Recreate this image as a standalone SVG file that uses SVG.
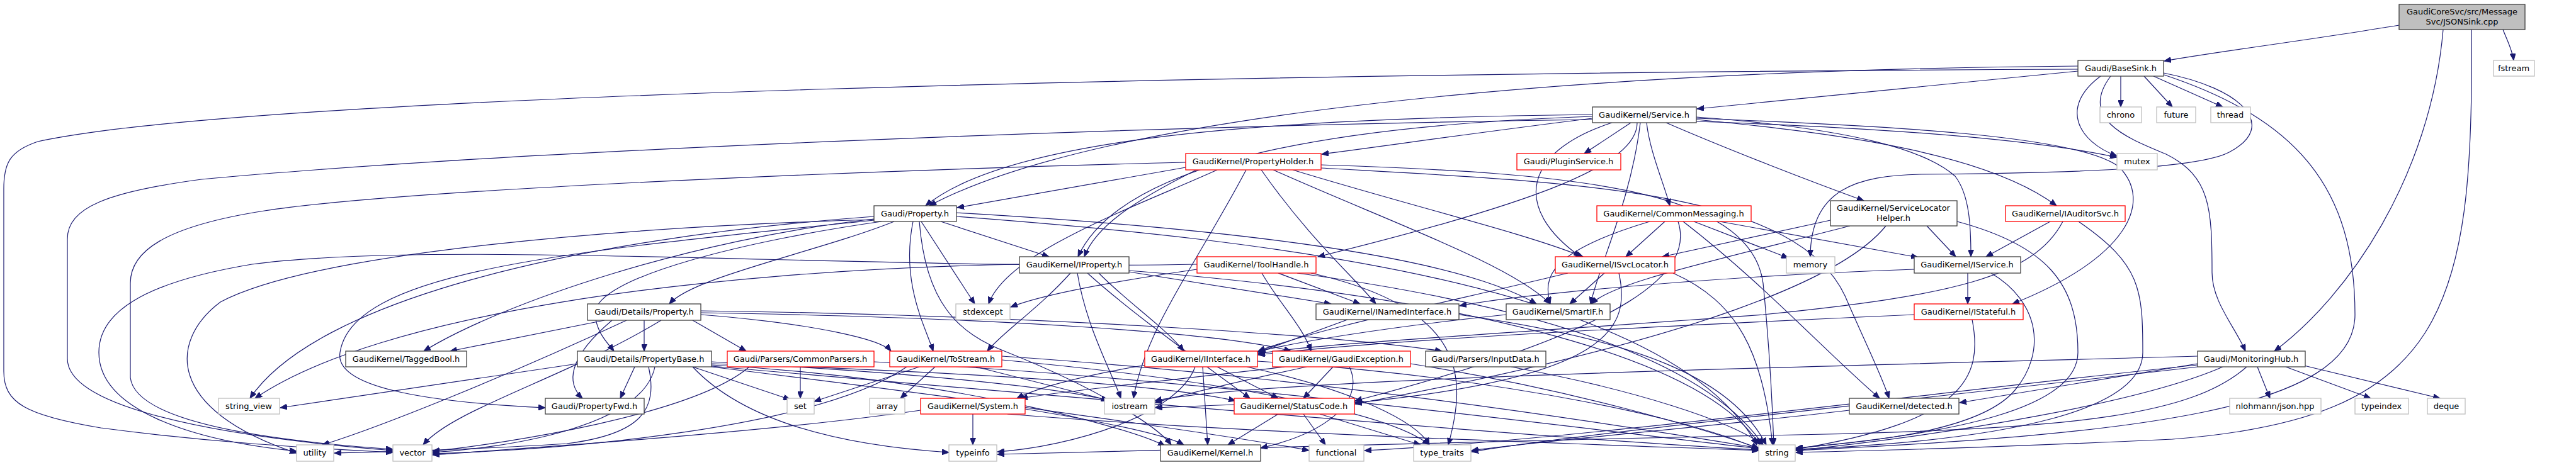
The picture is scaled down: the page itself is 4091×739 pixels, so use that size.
<svg xmlns="http://www.w3.org/2000/svg" width="4091" height="739" viewBox="0 0 4091 739">
<style>
rect{fill:#fff;stroke-width:1.3}
.n rect{stroke:#404040}
.r rect{stroke:#ff0000}
.g rect{stroke:#bfbfbf}
.root rect{fill:#bfbfbf;stroke:#404040}
text{font-family:"DejaVu Sans","Liberation Sans",sans-serif;font-size:13px;text-anchor:middle;fill:#000}
.e path{fill:none;stroke:#191970;stroke-width:1.2;marker-end:url(#a)}
</style>
<defs>
<marker id="a" markerWidth="12" markerHeight="9" refX="11" refY="4.5" orient="auto" markerUnits="userSpaceOnUse"><path d="M0,0 L11,4.5 L0,9 z" fill="#191970" stroke="#191970"/></marker>
</defs>
<rect x="0" y="0" width="4091" height="739" style="fill:#fff;stroke:none"/>
<g id="connectors" class="e">
<path d="M3810,40 C3660,65 3520,82 3437,97"/>
<path d="M3975,47 C3982,65 3990,80 3992,96"/>
<path d="M3880,47 C3860,280 3730,470 3612,558"/>
<path d="M3925,47 C3930,500 3880,665 3450,698 C3150,712 2980,716 2852,719"/>
<path d="M3300,113 C3050,138 2850,158 2695,173"/>
<path d="M3300,105 C2500,112 1750,180 1476,327"/>
<path d="M3300,110 C2000,115 400,150 60,225 C15,240 6,260 6,300 L6,590 C6,640 40,660 160,680 C350,705 500,712 624,719"/>
<path d="M3368,121 L3368,170"/>
<path d="M3405,121 L3450,170"/>
<path d="M3420,121 L3530,170"/>
<path d="M3336,121 C3270,170 3300,225 3362,248"/>
<path d="M3352,121 C3300,190 3380,220 3440,245 C3510,280 3513,330 3513,433 C3513,480 3550,520 3566,558"/>
<path d="M3436,116 C3560,140 3620,200 3540,242 C3490,268 3300,275 3050,277 C2950,279 2875,300 2875,408"/>
<path d="M3437,119 C3650,190 3740,300 3740,500 C3740,650 3400,690 2852,716"/>
<path d="M2529,188 C2350,210 2200,232 2099,245"/>
<path d="M2590,195 L2516,244"/>
<path d="M2615,195 C2620,240 2640,285 2652,327"/>
<path d="M2646,195 C2750,240 2880,290 2960,319"/>
<path d="M2694,190 C2900,210 3150,240 3266,327"/>
<path d="M2694,186 C2950,205 3060,240 3105,280 C3128,310 3130,360 3130,408"/>
<path d="M2694,188 C3000,200 3300,215 3365,265 C3420,320 3380,410 3196,483"/>
<path d="M2600,195 C2600,260 2450,320 2093,408"/>
<path d="M2560,195 C2420,240 2400,330 2510,408"/>
<path d="M2605,195 C2590,320 2540,420 2526,483"/>
<path d="M2529,182 C2000,188 1600,220 1470,327"/>
<path d="M2529,185 C2100,200 1780,260 1712,408"/>
<path d="M2529,190 C1800,200 800,240 320,285 C170,305 107,330 107,380 L107,570 C107,640 300,690 624,716"/>
<path d="M2694,193 C2900,200 3200,215 3362,250"/>
<path d="M1883,266 L1520,330"/>
<path d="M1900,270 C1800,320 1740,360 1722,408"/>
<path d="M2003,270 C2080,380 2150,440 2185,483"/>
<path d="M2022,270 C2200,350 2400,420 2462,483"/>
<path d="M2053,270 C2250,330 2420,370 2514,408"/>
<path d="M1933,270 C1800,330 1600,400 1570,483"/>
<path d="M1979,270 C1900,420 1820,520 1800,633"/>
<path d="M2098,262 C2500,275 2780,300 2800,450 C2810,550 2815,650 2817,707"/>
<path d="M2098,267 C2500,290 2850,300 2930,470 C2960,540 2990,600 3000,633"/>
<path d="M1883,258 C1400,270 650,300 420,335 C260,360 207,400 207,450 L207,600 C215,670 420,700 624,714"/>
<path d="M1420,352 C1300,400 1100,440 1063,483"/>
<path d="M1400,352 C1200,380 940,440 945,500 C948,530 965,545 975,558"/>
<path d="M1494,352 L1666,408"/>
<path d="M1388,348 C1100,380 800,480 673,558"/>
<path d="M1450,352 C1430,450 1470,520 1482,558"/>
<path d="M1463,352 L1548,483"/>
<path d="M1460,352 C1470,480 1520,530 1600,560 C1750,620 1840,680 1860,707"/>
<path d="M1519,338 C1900,360 2300,400 2440,483"/>
<path d="M1519,344 C2000,380 2650,450 2790,707"/>
<path d="M1388,344 C900,380 500,480 397,633"/>
<path d="M1388,350 C900,400 560,430 540,560 C530,620 700,640 866,648"/>
<path d="M1388,349 C1000,360 500,400 350,480 C270,540 260,650 471,720"/>
<path d="M1619,420 C1100,430 600,500 405,633"/>
<path d="M2620,352 C2460,400 2450,440 2462,483"/>
<path d="M2644,352 L2582,408"/>
<path d="M2690,352 L2840,410"/>
<path d="M2731,352 L3046,409"/>
<path d="M2665,352 C2690,430 2600,520 2152,637"/>
<path d="M2673,352 C2800,450 2900,560 2985,633"/>
<path d="M2907,350 L2640,408"/>
<path d="M2938,359 C2700,420 2560,450 2527,483"/>
<path d="M3060,359 L3106,408"/>
<path d="M3108,352 C3250,390 3300,450 3300,560 C3300,650 3100,690 2852,712"/>
<path d="M2995,359 C2930,440 2700,540 2152,642"/>
<path d="M3256,352 L3154,408"/>
<path d="M3276,352 C3230,440 3100,470 2800,500 C2400,530 2100,545 1998,562"/>
<path d="M3301,352 C3400,420 3403,460 3403,560 C3403,650 3200,700 2852,714"/>
<path d="M1793,432 L2114,483"/>
<path d="M1745,434 C1790,480 1850,520 1880,558"/>
<path d="M1793,430 C2300,470 2700,560 2795,707"/>
<path d="M1727,434 C1800,500 1900,570 1985,633"/>
<path d="M1711,434 C1725,520 1765,590 1780,633"/>
<path d="M1700,434 C1650,490 1590,530 1568,558"/>
<path d="M2030,434 L2160,483"/>
<path d="M1901,428 C1750,450 1650,470 1605,488"/>
<path d="M2060,434 C2400,480 2700,560 2800,707"/>
<path d="M2082,434 C2330,490 2330,600 2300,707"/>
<path d="M1901,420 C1400,430 700,380 400,420 C220,450 157,500 157,560 C157,650 300,700 471,717"/>
<path d="M2004,434 C2030,480 2070,520 2082,558"/>
<path d="M2548,434 L2493,483"/>
<path d="M2571,434 C2590,520 2560,600 2152,640"/>
<path d="M2657,434 C2760,480 2800,560 2815,707"/>
<path d="M2490,434 C2300,480 2100,520 1998,558"/>
<path d="M3040,428 C2700,440 2400,470 2318,486"/>
<path d="M3125,434 L3125,483"/>
<path d="M3162,434 C3240,480 3250,560 3200,620 C3150,680 3000,700 2852,712"/>
<path d="M3040,500 C2600,520 2200,540 1998,564"/>
<path d="M3132,508 C3150,600 3120,670 2852,714"/>
<path d="M2140,508 L1998,560"/>
<path d="M2317,500 C2600,540 2750,600 2805,707"/>
<path d="M2392,500 C2200,520 2050,545 1998,559"/>
<path d="M1100,509 L1185,558"/>
<path d="M1113,500 C1300,515 1400,540 1415,558"/>
<path d="M960,509 L715,558"/>
<path d="M1023,509 L1023,558"/>
<path d="M972,509 C900,570 900,610 925,633"/>
<path d="M995,509 C800,600 600,680 512,707"/>
<path d="M1050,509 C900,600 720,650 672,707"/>
<path d="M1113,494 C1600,500 2100,530 2290,558"/>
<path d="M1113,497 C1600,505 1950,530 2050,558"/>
<path d="M1008,583 L985,633"/>
<path d="M917,578 L445,648"/>
<path d="M1100,583 L1255,635"/>
<path d="M1130,575 C1400,590 1650,610 1760,636"/>
<path d="M1100,583 C1200,690 1400,712 1507,719"/>
<path d="M1030,583 C1045,650 1020,690 900,705 C750,715 600,718 531,720"/>
<path d="M1040,583 C1020,680 800,712 687,719"/>
<path d="M1130,580 C1500,600 1800,680 1850,709"/>
<path d="M1130,578 C1500,590 1850,610 1962,637"/>
<path d="M1130,582 C1800,640 2500,700 2793,715"/>
<path d="M1130,583 C1600,640 2000,700 2079,716"/>
<path d="M1271,583 L1271,633"/>
<path d="M1190,583 C1100,660 800,705 687,717"/>
<path d="M1388,575 C1900,600 2500,680 2793,713"/>
<path d="M1460,583 L1293,638"/>
<path d="M1485,583 L1430,633"/>
<path d="M1550,583 L1760,636"/>
<path d="M1440,583 C1300,680 900,715 687,721"/>
<path d="M1591,566 C2100,600 2600,680 2793,712"/>
<path d="M1591,572 C1900,600 2200,650 2270,707"/>
<path d="M1933,583 L2030,633"/>
<path d="M1910,583 L1918,707"/>
<path d="M1820,580 C1700,600 1640,620 1615,633"/>
<path d="M1898,583 C1870,660 1700,710 1584,718"/>
<path d="M1997,574 C2400,600 2700,670 2793,714"/>
<path d="M1980,583 C2150,620 2250,670 2270,707"/>
<path d="M2075,583 C1950,610 1870,630 1834,640"/>
<path d="M2117,583 L2070,633"/>
<path d="M2143,583 C2170,640 2100,690 2002,712"/>
<path d="M2240,578 C2500,620 2700,680 2793,712"/>
<path d="M2040,583 C1900,600 1700,620 1621,633"/>
<path d="M2400,583 C2600,620 2750,670 2800,707"/>
<path d="M3490,578 L3112,640"/>
<path d="M3585,583 L3605,633"/>
<path d="M3630,583 L3765,633"/>
<path d="M3655,580 L3875,633"/>
<path d="M3530,583 C3400,640 3100,690 2852,716"/>
<path d="M3490,580 C3100,620 2500,700 2167,716"/>
<path d="M3490,566 C3000,580 2000,600 1834,637"/>
<path d="M3568,583 C3480,660 3300,680 2900,690 C2400,700 1800,715 1584,722"/>
<path d="M3490,583 C3000,640 2500,690 2337,718"/>
<path d="M1545,658 L1545,707"/>
<path d="M1628,650 C1750,670 1850,690 1880,707"/>
<path d="M1600,658 C2000,690 2500,705 2793,716"/>
<path d="M1462,652 C1200,690 800,714 687,723"/>
<path d="M2030,658 L1950,707"/>
<path d="M2070,658 L2105,707"/>
<path d="M2096,658 L2256,707"/>
<path d="M1960,643 L1835,648"/>
<path d="M2937,652 C2700,680 2450,700 2337,716"/>
</g>
<g id="jsonsink" class="root"><rect x="3810" y="7" width="200" height="40"/><text x="3910" y="23">GaudiCoreSvc/src/Message</text><text x="3910" y="39">Svc/JSONSink.cpp</text></g>
<g id="basesink" class="n"><rect x="3300" y="96" width="136" height="25"/><text x="3368" y="113">Gaudi/BaseSink.h</text></g>
<g id="fstream" class="g"><rect x="3960" y="96" width="65" height="25"/><text x="3992" y="113">fstream</text></g>
<g id="service" class="n"><rect x="2529" y="170" width="165" height="25"/><text x="2611" y="187">GaudiKernel/Service.h</text></g>
<g id="chrono" class="g"><rect x="3335" y="170" width="66" height="25"/><text x="3368" y="187">chrono</text></g>
<g id="future" class="g"><rect x="3425" y="170" width="62" height="25"/><text x="3456" y="187">future</text></g>
<g id="thread" class="g"><rect x="3511" y="170" width="63" height="25"/><text x="3542" y="187">thread</text></g>
<g id="propertyholder" class="r"><rect x="1883" y="244" width="215" height="26"/><text x="1990" y="261">GaudiKernel/PropertyHolder.h</text></g>
<g id="pluginservice" class="r"><rect x="2409" y="244" width="165" height="26"/><text x="2491" y="261">Gaudi/PluginService.h</text></g>
<g id="mutex" class="g"><rect x="3362" y="244" width="64" height="26"/><text x="3394" y="261">mutex</text></g>
<g id="property" class="n"><rect x="1388" y="327" width="131" height="25"/><text x="1453" y="344">Gaudi/Property.h</text></g>
<g id="commonmessaging" class="r"><rect x="2536" y="327" width="245" height="25"/><text x="2658" y="344">GaudiKernel/CommonMessaging.h</text></g>
<g id="servicelocatorhelper" class="n"><rect x="2907" y="319" width="201" height="40"/><text x="3007" y="335">GaudiKernel/ServiceLocator</text><text x="3007" y="351">Helper.h</text></g>
<g id="iauditorsvc" class="r"><rect x="3185" y="327" width="190" height="25"/><text x="3280" y="344">GaudiKernel/IAuditorSvc.h</text></g>
<g id="iproperty" class="n"><rect x="1619" y="408" width="174" height="26"/><text x="1706" y="425">GaudiKernel/IProperty.h</text></g>
<g id="toolhandle" class="r"><rect x="1901" y="408" width="189" height="26"/><text x="1995" y="425">GaudiKernel/ToolHandle.h</text></g>
<g id="isvclocator" class="r"><rect x="2470" y="408" width="190" height="26"/><text x="2565" y="425">GaudiKernel/ISvcLocator.h</text></g>
<g id="memory" class="g"><rect x="2837" y="408" width="77" height="26"/><text x="2875" y="425">memory</text></g>
<g id="iservice" class="n"><rect x="3040" y="408" width="169" height="26"/><text x="3124" y="425">GaudiKernel/IService.h</text></g>
<g id="detailsproperty" class="n"><rect x="933" y="483" width="180" height="26"/><text x="1023" y="500">Gaudi/Details/Property.h</text></g>
<g id="stdexcept" class="g"><rect x="1518" y="483" width="86" height="25"/><text x="1561" y="500">stdexcept</text></g>
<g id="inamedinterface" class="n"><rect x="2090" y="483" width="227" height="25"/><text x="2203" y="500">GaudiKernel/INamedInterface.h</text></g>
<g id="smartif" class="n"><rect x="2392" y="483" width="165" height="25"/><text x="2474" y="500">GaudiKernel/SmartIF.h</text></g>
<g id="istateful" class="r"><rect x="3040" y="483" width="173" height="25"/><text x="3126" y="500">GaudiKernel/IStateful.h</text></g>
<g id="taggedbool" class="n"><rect x="549" y="558" width="192" height="25"/><text x="645" y="575">GaudiKernel/TaggedBool.h</text></g>
<g id="propertybase" class="n"><rect x="917" y="558" width="213" height="25"/><text x="1023" y="575">Gaudi/Details/PropertyBase.h</text></g>
<g id="commonparsers" class="r"><rect x="1155" y="558" width="233" height="25"/><text x="1271" y="575">Gaudi/Parsers/CommonParsers.h</text></g>
<g id="tostream" class="r"><rect x="1413" y="558" width="178" height="25"/><text x="1502" y="575">GaudiKernel/ToStream.h</text></g>
<g id="iinterface" class="r"><rect x="1818" y="558" width="179" height="25"/><text x="1907" y="575">GaudiKernel/IInterface.h</text></g>
<g id="gaudiexception" class="r"><rect x="2021" y="558" width="219" height="25"/><text x="2130" y="575">GaudiKernel/GaudiException.h</text></g>
<g id="inputdata" class="n"><rect x="2264" y="558" width="191" height="25"/><text x="2359" y="575">Gaudi/Parsers/InputData.h</text></g>
<g id="monitoringhub" class="n"><rect x="3490" y="558" width="171" height="25"/><text x="3575" y="575">Gaudi/MonitoringHub.h</text></g>
<g id="string_view" class="g"><rect x="347" y="633" width="97" height="25"/><text x="395" y="650">string_view</text></g>
<g id="propertyfwd" class="n"><rect x="866" y="633" width="157" height="25"/><text x="944" y="650">Gaudi/PropertyFwd.h</text></g>
<g id="set" class="g"><rect x="1250" y="633" width="43" height="25"/><text x="1271" y="650">set</text></g>
<g id="array" class="g"><rect x="1381" y="633" width="56" height="25"/><text x="1409" y="650">array</text></g>
<g id="system" class="r"><rect x="1462" y="633" width="166" height="25"/><text x="1545" y="650">GaudiKernel/System.h</text></g>
<g id="iostream" class="g"><rect x="1754" y="633" width="80" height="25"/><text x="1794" y="650">iostream</text></g>
<g id="statuscode" class="r"><rect x="1960" y="633" width="191" height="25"/><text x="2055" y="650">GaudiKernel/StatusCode.h</text></g>
<g id="detected" class="n"><rect x="2937" y="633" width="174" height="25"/><text x="3024" y="650">GaudiKernel/detected.h</text></g>
<g id="nlohmann" class="g"><rect x="3541" y="633" width="145" height="25"/><text x="3613" y="650">nlohmann/json.hpp</text></g>
<g id="typeindex" class="g"><rect x="3740" y="633" width="85" height="25"/><text x="3782" y="650">typeindex</text></g>
<g id="deque" class="g"><rect x="3855" y="633" width="60" height="25"/><text x="3885" y="650">deque</text></g>
<g id="utility" class="g"><rect x="471" y="707" width="59" height="26"/><text x="500" y="724">utility</text></g>
<g id="vector" class="g"><rect x="624" y="707" width="62" height="26"/><text x="655" y="724">vector</text></g>
<g id="typeinfo" class="g"><rect x="1507" y="707" width="76" height="26"/><text x="1545" y="724">typeinfo</text></g>
<g id="kernel" class="n"><rect x="1843" y="707" width="159" height="26"/><text x="1922" y="724">GaudiKernel/Kernel.h</text></g>
<g id="functional" class="g"><rect x="2079" y="707" width="87" height="26"/><text x="2122" y="724">functional</text></g>
<g id="type_traits" class="g"><rect x="2245" y="707" width="91" height="26"/><text x="2290" y="724">type_traits</text></g>
<g id="string" class="g"><rect x="2793" y="707" width="58" height="26"/><text x="2822" y="724">string</text></g>
</svg>
